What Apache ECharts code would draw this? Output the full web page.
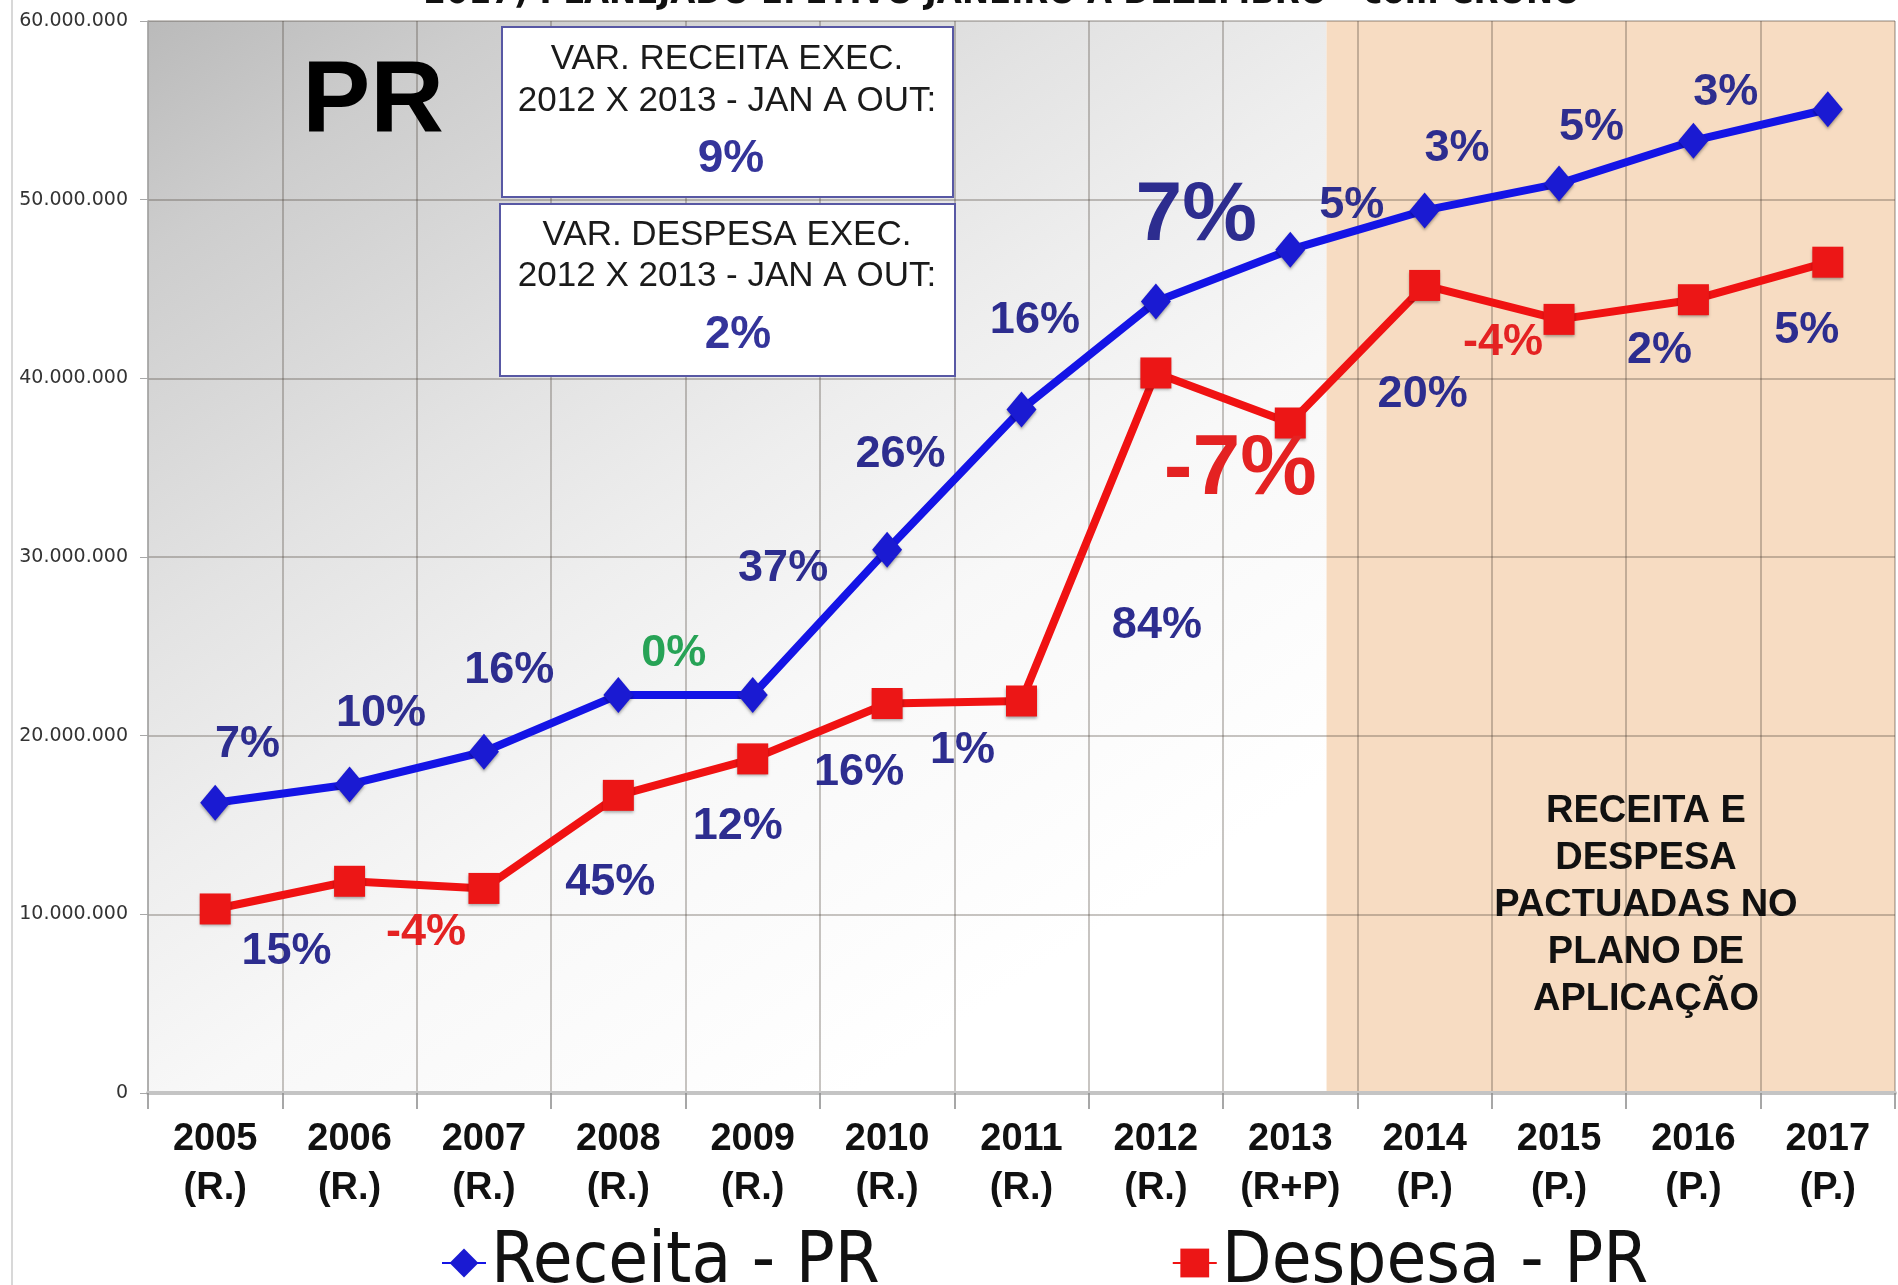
<!DOCTYPE html>
<html>
<head>
<meta charset="utf-8">
<script src="https://cdn.jsdelivr.net/npm/echarts@6/dist/echarts.min.js"></script>
<style>
  html, body { margin: 0; padding: 0; background: #fff; }
  #chart { width: 1898px; height: 1285px; }
</style>
</head>
<body>
<div id="chart"></div>
<script>
// dados
var categories = ['2005\n(R.)', '2006\n(R.)', '2007\n(R.)', '2008\n(R.)', '2009\n(R.)', '2010\n(R.)',
  '2011\n(R.)', '2012\n(R.)', '2013\n(R+P)', '2014\n(P.)', '2015\n(P.)', '2016\n(P.)', '2017\n(P.)'];
var receita = [16250000, 17270000, 19100000, 22280000, 22280000, 30400000, 38260000,
  44300000, 47200000, 49400000, 50900000, 53300000, 55060000];
var despesa = [10300000, 11850000, 11450000, 16660000, 18700000, 21800000, 21940000,
  40300000, 37500000, 45200000, 43300000, 44400000, 46500000];
var receitaVar = ['', '7%', '10%', '16%', '0%', '37%', '26%', '16%', '7%', '5%', '3%', '5%', '3%'];
var despesaVar = ['', '15%', '-4%', '45%', '12%', '16%', '1%', '84%', '-7%', '20%', '-4%', '2%', '5%'];
var yTicks = [0, 10000000, 20000000, 30000000, 40000000, 50000000, 60000000];

// layout dos rotulos (deslocamento em px a partir do ponto)
var receitaOffset = [[0, 0], [-102, -40], [-103, -38], [-109, -24], [-79, -41], [-104, 19], [-121, 45],
  [-121, 19], [-94, -33], [-73, -5], [-102, -35], [-102, -13], [-102, -17]];
var despesaOffset = [[0, 0], [-63, 70], [-58, 44], [-8, 87], [-15, 68], [-28, 69], [-59, 50],
  [1, 253], [-50, 47], [-2, 109], [-56, 23], [-34, 51], [-21, 68]];
var navy = '#2d2d8f', green = '#27a356', redTxt = '#e42222';
var receitaColor = [navy, navy, navy, navy, green, navy, navy, navy, navy, navy, navy, navy, navy];
var despesaColor = [navy, navy, redTxt, navy, navy, navy, navy, navy, redTxt, navy, redTxt, navy, navy];
var receitaSize = [45, 45, 45, 45, 45, 45, 45, 45, 84, 45, 45, 45, 45];
var despesaSize = [45, 45, 45, 45, 45, 45, 45, 45, 86, 45, 45, 45, 45];

var gridL = 148, gridT = 21, gridR = 3, gridB = 192;
var W = 1898, H = 1285;
var plotW = W - gridL - gridR, plotH = H - gridT - gridB;
var orangeX = gridL + plotW * 8.77 / 13;

var narrow = "'Liberation Sans Narrow', 'DejaVu Sans Condensed', sans-serif";
var arial = "'Liberation Sans', Arial, sans-serif";

function fmt(v) {
  return String(v).replace(/\B(?=(\d{3})+(?!\d))/g, '.');
}

function buildData(values, labels, colors, sizes) {
  return values.map(function (v, i) {
    return {
      value: v,
      label: {
        show: i > 0,
        formatter: labels[i],
        color: colors[i],
        fontSize: sizes[i],
        fontWeight: 'bold',
        fontFamily: arial
      }
    };
  });
}

function layoutFrom(offsets) {
  return function (p) {
    var o = offsets[p.dataIndex];
    return {
      x: p.rect.x + p.rect.width / 2 + o[0],
      y: p.rect.y + p.rect.height / 2 + o[1],
      align: 'center',
      verticalAlign: 'middle',
      hideOverlap: false
    };
  };
}

var chart = echarts.init(document.getElementById('chart'));
var option = {
  backgroundColor: '#ffffff',
  animation: false,
  grid: { left: gridL, right: gridR, top: gridT, bottom: gridB },
  legend: {
    left: 436,
    top: 1222,
    itemGap: 292,
    itemWidth: 44,
    itemHeight: 36,
    textStyle: { fontFamily: narrow, fontSize: 72, color: '#111' },
    data: ['Receita - PR', 'Despesa - PR']
  },
  xAxis: {
    type: 'category',
    data: categories,
    boundaryGap: true,
    axisLine: { lineStyle: { color: '#c4c4c4', width: 4 } },
    axisTick: { show: true, interval: 0, length: 16, lineStyle: { color: '#8a8a8a', width: 1.5 } },
    splitLine: { show: true, interval: 0, lineStyle: { color: 'rgba(70,60,50,0.4)', width: 1.5 } },
    axisLabel: {
      interval: 0,
      margin: 22,
      fontFamily: arial,
      fontWeight: 'bold',
      fontSize: 38,
      lineHeight: 49,
      color: '#111'
    }
  },
  yAxis: {
    type: 'value',
    min: 0,
    max: 60000000,
    interval: 10000000,
    axisLine: { show: true, lineStyle: { color: '#a8a8a8', width: 1.5 } },
    axisTick: { show: true, length: 8, lineStyle: { color: '#a8a8a8' } },
    splitLine: { show: true, lineStyle: { color: 'rgba(70,60,50,0.4)', width: 1.5 } },
    axisLabel: {
      margin: 20,
      fontFamily: "'DejaVu Sans', sans-serif",
      fontSize: 19,
      color: '#333',
      formatter: function (v) { return yTicks.indexOf(v) >= 0 ? fmt(v) : ''; }
    }
  },
  graphic: [
    // fundo cinza degradê
    {
      type: 'rect', z: -10, silent: true,
      shape: { x: gridL, y: gridT, width: orangeX - gridL, height: plotH },
      style: {
        fill: new echarts.graphic.LinearGradient(0, 0, 0.6, 1, [
          { offset: 0, color: '#bababa' },
          { offset: 0.15, color: '#cdcdcd' },
          { offset: 0.4, color: '#e3e3e3' },
          { offset: 0.55, color: '#eeeeee' },
          { offset: 0.72, color: '#f8f8f8' },
          { offset: 1, color: '#ffffff' }
        ])
      }
    },
    // faixa planejada
    {
      type: 'rect', z: -10, silent: true,
      shape: { x: orangeX, y: gridT, width: W - gridR - orangeX, height: plotH },
      style: { fill: '#f7dcc2' }
    },
    // moldura do slide
    { type: 'line', z: -5, shape: { x1: 12, y1: 0, x2: 12, y2: H }, style: { stroke: '#d8d8d8', lineWidth: 2 } },
    // título cortado no topo
    {
      type: 'text', z: 50, x: 1002, y: 12,
      style: {
        text: '2017) PLANEJADO EFETIVO JANEIRO A DEZEMBRO - com CRONO',
        font: 'bold 36px ' + narrow, fill: '#111', align: 'center', verticalAlign: 'bottom'
      }
    },
    // PR
    {
      type: 'text', z: 50, x: 373, y: 104,
      style: { text: 'PR', font: 'bold 102px ' + arial, fill: '#000', align: 'center', verticalAlign: 'middle' }
    },
    // caixa receita
    {
      type: 'rect', z: 50, shape: { x: 502, y: 27, width: 451, height: 170 },
      style: { fill: '#ffffff', stroke: '#5858a4', lineWidth: 2 }
    },
    {
      type: 'text', z: 51, x: 727, y: 59,
      style: { text: 'VAR. RECEITA EXEC.', font: '35px ' + arial, fill: '#1a1a1a', align: 'center', verticalAlign: 'middle' }
    },
    {
      type: 'text', z: 51, x: 727, y: 101,
      style: { text: '2012 X 2013 - JAN A OUT:', font: '35px ' + arial, fill: '#1a1a1a', align: 'center', verticalAlign: 'middle' }
    },
    {
      type: 'text', z: 51, x: 731, y: 159,
      style: { text: '9%', font: 'bold 46px ' + arial, fill: '#34349a', align: 'center', verticalAlign: 'middle' }
    },
    // caixa despesa
    {
      type: 'rect', z: 50, shape: { x: 500, y: 204, width: 455, height: 172 },
      style: { fill: '#ffffff', stroke: '#5858a4', lineWidth: 2 }
    },
    {
      type: 'text', z: 51, x: 727, y: 235,
      style: { text: 'VAR. DESPESA EXEC.', font: '35px ' + arial, fill: '#1a1a1a', align: 'center', verticalAlign: 'middle' }
    },
    {
      type: 'text', z: 51, x: 727, y: 276,
      style: { text: '2012 X 2013 - JAN A OUT:', font: '35px ' + arial, fill: '#1a1a1a', align: 'center', verticalAlign: 'middle' }
    },
    {
      type: 'text', z: 51, x: 738, y: 335,
      style: { text: '2%', font: 'bold 46px ' + arial, fill: '#34349a', align: 'center', verticalAlign: 'middle' }
    },
    // nota planejado
    {
      type: 'text', z: 51, x: 1646, y: 788,
      style: {
        text: 'RECEITA E\nDESPESA\nPACTUADAS NO\nPLANO DE\nAPLICAÇÃO',
        font: 'bold 38px ' + arial, lineHeight: 47, fill: '#111', align: 'center', verticalAlign: 'top'
      }
    }
  ],
  series: [
    {
      name: 'Receita - PR',
      type: 'line',
      data: buildData(receita, receitaVar, receitaColor, receitaSize),
      symbol: 'diamond',
      symbolSize: [30, 36],
      z: 3,
      lineStyle: { color: '#1414e6', width: 8 },
      itemStyle: { color: '#1a1ad2', borderWidth: 0, shadowBlur: 3, shadowColor: 'rgba(0,0,0,0.35)', shadowOffsetY: 2 },
      labelLayout: layoutFrom(receitaOffset)
    },
    {
      name: 'Despesa - PR',
      type: 'line',
      data: buildData(despesa, despesaVar, despesaColor, despesaSize),
      symbol: 'rect',
      symbolSize: 31,
      z: 4,
      lineStyle: { color: '#f01212', width: 8 },
      itemStyle: { color: '#ec1616', borderWidth: 0, shadowBlur: 3, shadowColor: 'rgba(0,0,0,0.35)', shadowOffsetY: 2 },
      labelLayout: layoutFrom(despesaOffset)
    }
  ]
};
chart.setOption(option);
</script>
</body>
</html>
